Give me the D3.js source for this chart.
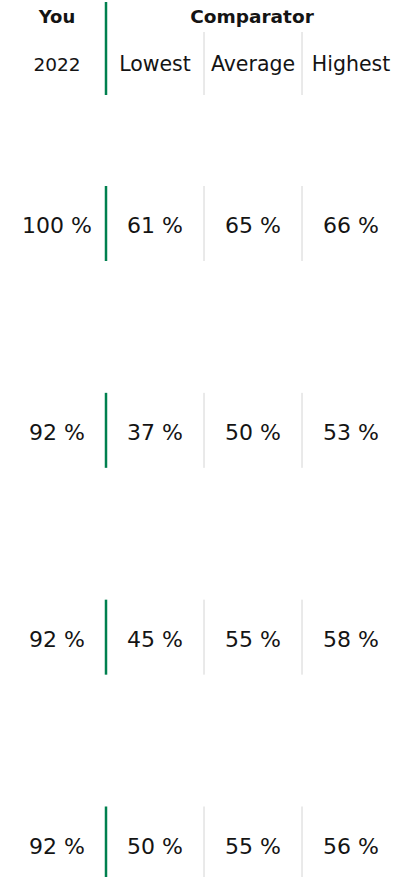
<!DOCTYPE html>
<html>
<head>
<meta charset="utf-8">
<script src="https://cdn.jsdelivr.net/npm/d3@7"></script>
<style>
  body { margin: 0; background: #fff; }
  svg text { font-family: "DejaVu Sans", sans-serif; fill: #141414; }
</style>
</head>
<body>
<script>
const w = 416
const h = 877

const columns = ['You', 'Lowest', 'Average', 'Highest']
const headerTitles = ['You', 'Comparator']
const headerSub = ['2022', 'Lowest', 'Average', 'Highest']
const rows = [0, 1, 2, 3]
const youValues = [100, 92, 92, 92]
const lowestValues = [61, 37, 45, 50]
const averageValues = [65, 50, 55, 55]
const highestValues = [66, 53, 58, 56]

const green = '#00804f'
const grey = '#d4d4d4'

let svg = d3.select('body')
    .append('svg')
    .attr('width', w)
    .attr('height', h)

const xScale = d3.scaleBand()
    .domain(columns)
    .range([8, 400])

const yScale = d3.scalePoint()
    .domain(rows)
    .range([223.5, 844])

const half = 37.5
const table = rows.map(i => [youValues[i], lowestValues[i], averageValues[i], highestValues[i]])

// header
svg.append('text')
    .attr('x', xScale('You') + xScale.bandwidth() / 2)
    .attr('y', 23)
    .attr('text-anchor', 'middle')
    .style('font-size', '18px')
    .style('font-weight', 'bold')
    .text(headerTitles[0])

svg.append('text')
    .attr('x', xScale('Average') + xScale.bandwidth() / 2 - 1)
    .attr('y', 23)
    .attr('text-anchor', 'middle')
    .style('font-size', '18.5px')
    .style('font-weight', 'bold')
    .text(headerTitles[1])

svg.selectAll('.sub')
    .data(headerSub)
    .enter()
    .append('text')
    .attr('class', 'sub')
    .attr('x', (d, i) => xScale(columns[i]) + xScale.bandwidth() / 2)
    .attr('y', 71)
    .attr('text-anchor', 'middle')
    .style('font-size', (d, i) => i == 0 ? '18.5px' : '20.5px')
    .text(d => d)

svg.append('line')
    .attr('x1', xScale('Lowest')).attr('x2', xScale('Lowest'))
    .attr('y1', 2).attr('y2', 95)
    .attr('stroke', green)
    .attr('stroke-width', 2.5)

svg.selectAll('.hsep')
    .data(['Average', 'Highest'])
    .enter()
    .append('line')
    .attr('class', 'hsep')
    .attr('x1', d => xScale(d)).attr('x2', d => xScale(d))
    .attr('y1', 32).attr('y2', 95)
    .attr('stroke', grey)
    .attr('stroke-width', 1)

// rows
let row = svg.selectAll('.row')
    .data(rows)
    .enter()
    .append('g')
    .attr('class', 'row')
    .attr('transform', d => `translate(0, ${yScale(d)})`)

row.append('line')
    .attr('x1', xScale('Lowest')).attr('x2', xScale('Lowest'))
    .attr('y1', -half).attr('y2', half)
    .attr('stroke', green)
    .attr('stroke-width', 2.5)

row.selectAll('.sep')
    .data(['Average', 'Highest'])
    .enter()
    .append('line')
    .attr('class', 'sep')
    .attr('x1', d => xScale(d)).attr('x2', d => xScale(d))
    .attr('y1', -half).attr('y2', half)
    .attr('stroke', grey)
    .attr('stroke-width', 1)

row.selectAll('.val')
    .data(d => table[d])
    .enter()
    .append('text')
    .attr('class', 'val')
    .attr('x', (d, i) => xScale(columns[i]) + xScale.bandwidth() / 2)
    .attr('y', 9.5)
    .attr('text-anchor', 'middle')
    .style('font-size', '22px')
    .text(d => d + ' %')
</script>
</body>
</html>
